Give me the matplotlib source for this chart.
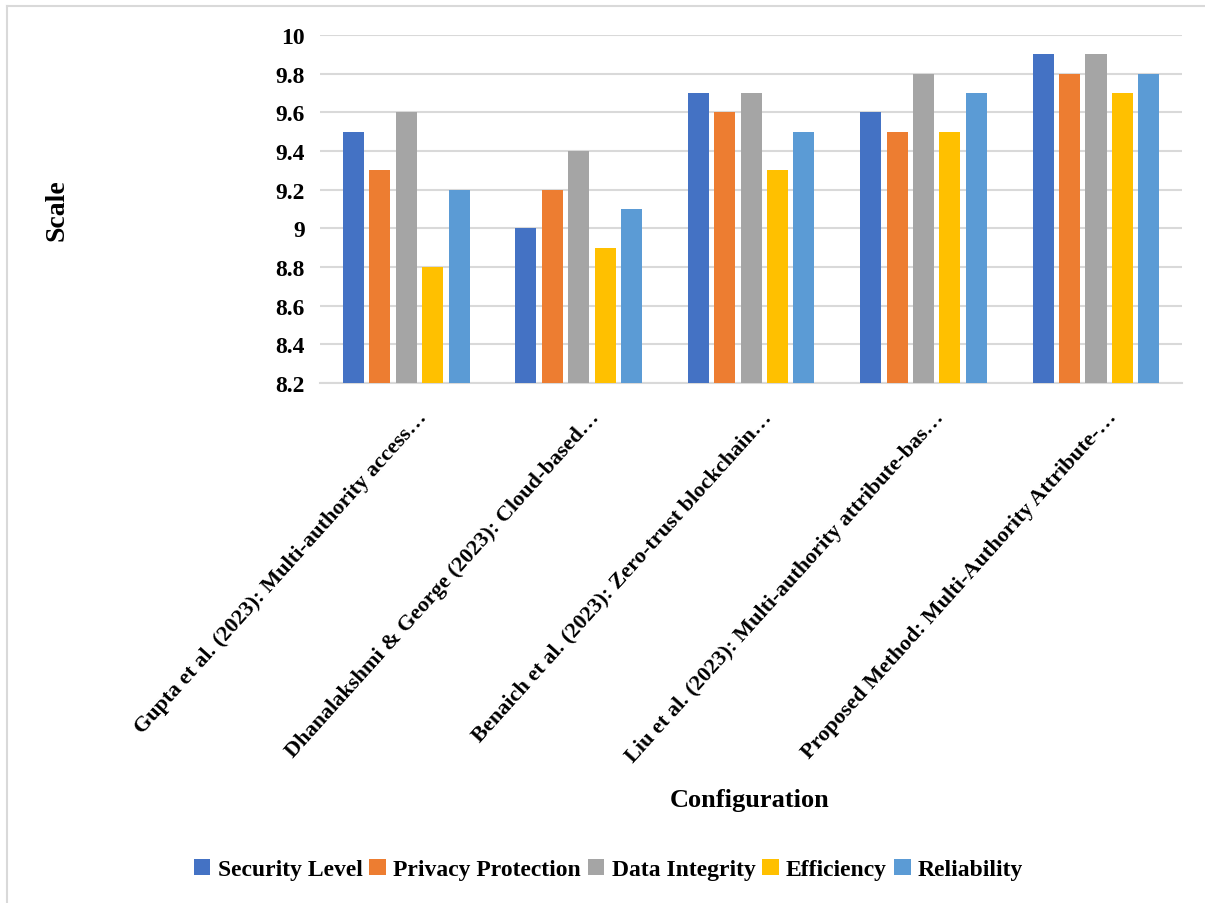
import numpy as np
import matplotlib.pyplot as plt
from matplotlib.lines import Line2D

configs = [
    'Gupta et al. (2023): Multi-authority access\u2026',
    'Dhanalakshmi & George (2023): Cloud-based\u2026',
    'Benaich et al. (2023): Zero-trust blockchain\u2026',
    'Liu et al. (2023): Multi-authority attribute-bas\u2026',
    'Proposed Method: Multi-Authority Attribute-\u2026',
]
metrics = ['Security Level', 'Privacy Protection', 'Data Integrity', 'Efficiency', 'Reliability']
security = [9.5, 9.0, 9.7, 9.6, 9.9]
privacy = [9.3, 9.2, 9.6, 9.5, 9.8]
integrity = [9.6, 9.4, 9.7, 9.8, 9.9]
efficiency = [8.8, 8.9, 9.3, 9.5, 9.7]
reliability = [9.2, 9.1, 9.5, 9.7, 9.8]
yticks = [8.2, 8.4, 8.6, 8.8, 9, 9.2, 9.4, 9.6, 9.8, 10]
ytick_labels = ['8.2', '8.4', '8.6', '8.8', '9', '9.2', '9.4', '9.6', '9.8', '10']

colors = ['#4472C4', '#ED7D31', '#A5A5A5', '#FFC000', '#5B9BD5']
series = [security, privacy, integrity, efficiency, reliability]

plt.rcParams['font.family'] = ['Liberation Serif', 'DejaVu Serif']
plt.rcParams['font.weight'] = 'bold'

fig = plt.figure(figsize=(12.05, 9.04), dpi=100)
ax = fig.add_axes([0.2656, 0.5752, 0.7155, 0.3850])

x = np.arange(len(configs))
slot = 0.153
width = 0.122
base = 8.2
for i, (vals, col, name) in enumerate(zip(series, colors, metrics)):
    offs = (i - 2) * slot
    ax.bar(x + offs, np.array(vals) - base, width, bottom=base, color=col, label=name, zorder=3)

ax.set_xlim(-0.5, len(configs) - 0.5)
ax.set_ylim(8.2, 10)
ax.set_yticks(yticks)
ax.set_yticklabels(ytick_labels, fontsize=17, fontweight='bold')
ax.yaxis.grid(True, color='#d9d9d9', linewidth=1.5, zorder=0)
ax.set_axisbelow(True)
for s in ['top', 'right', 'left']:
    ax.spines[s].set_visible(False)
ax.spines['bottom'].set_color('#d9d9d9')
ax.spines['bottom'].set_linewidth(1.5)
ax.tick_params(axis='y', length=0, pad=11)
ax.tick_params(axis='x', length=0, pad=22)
ax.set_xticks(x + 0.1)
ax.set_xticklabels(configs, rotation=48, ha='right', va='center',
                   rotation_mode='anchor', fontsize=16, fontweight='bold')

fig.text(0.047, 0.768, 'Scale', rotation=90, ha='center', va='center',
         fontsize=20, fontweight='bold')
fig.text(0.622, 0.115, 'Configuration', ha='center', va='center',
         fontsize=19, fontweight='bold')

handles, labels = ax.get_legend_handles_labels()
fig.legend(handles, labels, loc='center', bbox_to_anchor=(0.505, 0.037), ncol=5,
           frameon=False, handlelength=0.7, handleheight=0.7, handletextpad=0.3,
           columnspacing=0.3, prop={'size': 17, 'weight': 'bold'})

# chart border (left and top edges visible)
fig.add_artist(Line2D([0.0058, 0.0058], [0.0, 0.9923], color='#d9d9d9', linewidth=1.5,
                      transform=fig.transFigure))
fig.add_artist(Line2D([0.0058, 1.0], [0.9923, 0.9923], color='#d9d9d9', linewidth=1.5,
                      transform=fig.transFigure))

fig.savefig('out.png', dpi=100, facecolor='white')
